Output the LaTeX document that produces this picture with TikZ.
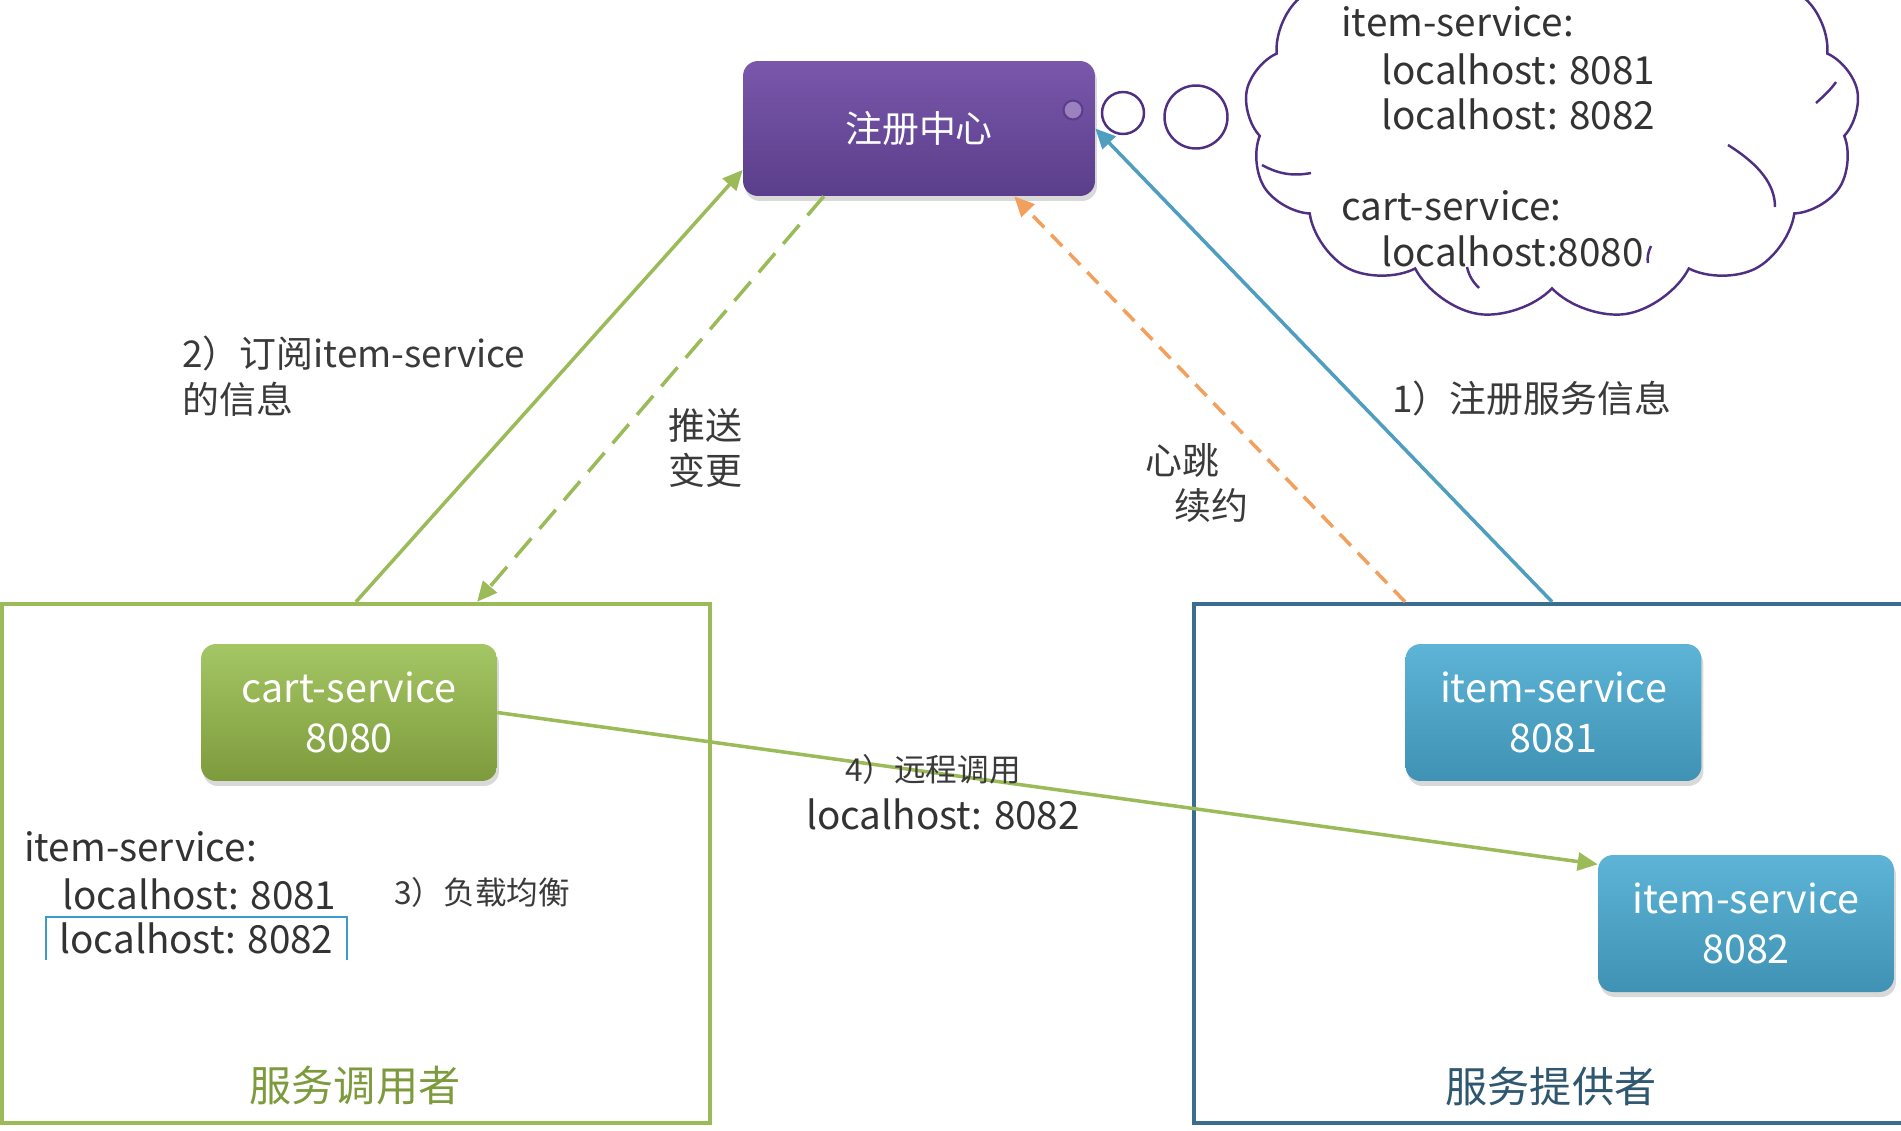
\documentclass[tikz,border=0pt]{standalone}
\usepackage{fontspec}
\setmainfont{Noto Sans CJK SC}
\usetikzlibrary{arrows.meta,positioning,calc,shapes.symbols,shadows}
\definecolor{RegTop}{HTML}{7A57AB}
\definecolor{RegBot}{HTML}{5A3E8B}
\definecolor{CloudLine}{HTML}{4E2F82}
\definecolor{CartTop}{HTML}{A5C664}
\definecolor{CartBot}{HTML}{7D9B3C}
\definecolor{ItemTop}{HTML}{5DB4D6}
\definecolor{ItemBot}{HTML}{3F92B4}
\definecolor{CallGreen}{HTML}{9BBB59}
\definecolor{ProvBlue}{HTML}{3B6E8C}
\definecolor{RegLine}{HTML}{4F9DBF}
\definecolor{BeatOrange}{HTML}{F2A05E}
\definecolor{TxtGray}{HTML}{3A3A3A}
\definecolor{SelBlue}{HTML}{3E9BC9}

\begin{document}
\begin{tikzpicture}[x=0.02cm,y=-0.02cm,
  every node/.style={text=TxtGray},
  svc/.style={rounded corners=3mm,minimum width=5.92cm,minimum height=2.74cm,
    align=center,text=white,font=\fontsize{22.5}{28}\selectfont,
    drop shadow={opacity=0.3,shadow xshift=0.04cm,shadow yshift=-0.1cm}},
  frame/.style={draw,line width=2.6pt,minimum height=10.38cm},
  bubble/.style={circle,draw=CloudLine,line width=1.4pt,fill=white,inner sep=0pt},
  inner/.style={CloudLine,line width=1.4pt},
  arr/.style={-{Triangle[length=4mm,width=3.6mm]},line width=2pt},
  lbl/.style={font=\fontsize{21}{26}\selectfont,align=left,inner sep=0pt},
  small/.style={font=\fontsize{18}{24}\selectfont,inner sep=0pt},
  host/.style={font=\fontsize{22}{26}\selectfont,inner sep=0pt,text=black!80}
]
\useasboundingbox (0,0) rectangle (1901,1130);
\clip (0,0) rectangle (1901,1130);

% frames
\node[frame,draw=CallGreen,minimum width=14.16cm] (consumer) at (356,863.5) {};
\node[frame,draw=ProvBlue,minimum width=14.32cm] (provider) at (1552,863.5) {};
\node[font=\fontsize{24}{30}\selectfont,text=CartBot] (consumerLbl) at (355,1086) {服务调用者};
\node[font=\fontsize{24}{30}\selectfont,text=ProvBlue!80!black] (providerLbl) at (1551,1086) {服务提供者};

% registry and its thought cloud
\node[svc,top color=RegTop,bottom color=RegBot,minimum width=7.04cm,minimum height=2.7cm,
  font=\fontsize{21}{26}\selectfont] (registry) at (919,128.5) {注册中心};
\node[bubble,fill=RegTop!75!white,draw=RegBot,line width=1.2pt,minimum size=0.38cm] (dot) at (1073,110) {};
\node[bubble,minimum size=0.84cm] (bubA) at (1123,113) {};
\node[bubble,minimum size=1.26cm] (bubB) at (1196,117) {};
\node[cloud,cloud puffs=13,cloud puff arc=110,cloud ignores aspect,draw=CloudLine,
  line width=1.4pt,minimum width=12.3cm,minimum height=8.2cm] (cloud) at (1552,115) {};
\draw[inner] (1262,165) .. controls (1280,175) and (1295,176) .. (1311,173);
\draw[inner] (1728,145) .. controls (1760,165) and (1775,185) .. (1775,207);
\draw[inner] (1816,103) .. controls (1825,95) and (1832,88) .. (1836,82);
\draw[inner] (1467,267) .. controls (1469,276) and (1473,282) .. (1479,288);
\draw[inner] (1651,246) .. controls (1648,252) and (1647,258) .. (1648,263);
\node[host,anchor=west] (clItem) at (1341,22) {item-service:};
\node[host,anchor=west] (clHost1) at (1381,69) {localhost: 8081};
\node[host,anchor=west] (clHost2) at (1381,114) {localhost: 8082};
\node[host,anchor=west] (clCart) at (1341,206) {cart-service:};
\node[host,anchor=west] (clHost3) at (1381,251) {localhost:8080};

% services
\node[svc,top color=CartTop,bottom color=CartBot] (cart) at (349,712.5) {cart-service\\8080};
\node[svc,top color=ItemTop,bottom color=ItemBot] (item1) at (1553.5,712.5) {item-service\\8081};
\node[svc,top color=ItemTop,bottom color=ItemBot] (item2) at (1746,923.5) {item-service\\8082};

% local list in the consumer
\node[host] (lbItem) at (140.5,847) {item-service:};
\node[host] (lbHost1) at (199.5,894) {localhost: 8081};
\node[host,minimum width=6.02cm,minimum height=0.86cm] (lbHost2) at (196.5,938.5) {localhost: 8082};
\draw[SelBlue,line width=1.3pt] (lbHost2.south west) |- (lbHost2.north east) -- (lbHost2.south east);
\node[small,anchor=west] (lbBalance) at (394,892) {3）负载均衡};

% connectors
\draw[arr,CallGreen] (consumer.north) -- ($(registry.west)!0.61!(registry.south west)$);
\draw[arr,CallGreen,dash pattern=on 0.5cm off 0.25cm]
  ($(registry.south west)!0.23!(registry.south east)$) -- ($(consumer.north west)!0.67!(consumer.north east)$);
\draw[arr,BeatOrange,dash pattern=on 0.32cm off 0.2cm]
  ($(provider.north west)!0.296!(provider.north east)$) -- ($(registry.south west)!0.77!(registry.south east)$);
\draw[arr,RegLine] (provider.north) -- (registry.east);
\draw[arr,CallGreen] (cart.east) -- ($(item2.north west)!0.07!(item2.south west)$);

% connector labels
\node[lbl,anchor=west] (subLbl) at (182,376) {2）订阅item-service\\的信息};
\node[lbl,anchor=west] (pushLbl) at (668,448) {推送\\变更};
\node[lbl,anchor=west] (beatLbl) at (1145,483) {心跳\\\hspace{0.58cm}续约};
\node[lbl,anchor=west] (regLbl) at (1392,398) {1）注册服务信息};
\node[small,anchor=center] (callLbl) at (933,769) {4）远程调用};
\node[host] (callHost) at (943,814) {localhost: 8082};
\end{tikzpicture}
\end{document}
